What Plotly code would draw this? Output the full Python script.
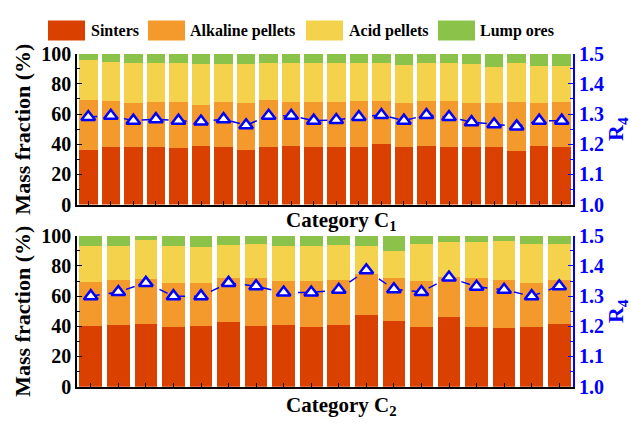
import plotly.graph_objects as go
from plotly.subplots import make_subplots

series_names = ["Sinters", "Alkaline pellets", "Acid pellets", "Lump ores"]
series_colors = ["#DA4000", "#F4992B", "#F5D24B", "#8BC34A"]

# Category C1 (22 samples), mass fractions in %
c1_sinters = [36.4, 38.3, 38.3, 37.9, 37.3, 38.9, 38.3, 36.4, 38.3, 38.5, 37.9,
              37.9, 38.3, 40.0, 37.9, 39.0, 38.3, 37.9, 38.3, 35.2, 39.0, 38.3]
c1_alkaline = [33.2, 30.2, 28.8, 30.2, 30.8, 27.1, 29.4, 30.7, 31.1, 29.6, 29.8,
               30.2, 30.2, 28.5, 29.6, 29.5, 30.2, 29.2, 28.8, 32.9, 28.1, 29.8]
c1_acid = [26.2, 26.1, 26.6, 25.6, 25.6, 27.1, 25.4, 26.0, 24.3, 25.7, 26.0,
           25.6, 25.3, 25.3, 25.0, 25.3, 25.3, 26.0, 24.4, 25.7, 25.0, 24.0]
c1_lump = [4.2, 5.4, 6.3, 6.3, 6.3, 6.9, 6.9, 6.9, 6.3, 6.2, 6.3,
           6.3, 6.2, 6.2, 7.5, 6.2, 6.2, 6.9, 8.5, 6.2, 7.9, 7.9]
c1_r4 = [1.290, 1.294, 1.278, 1.283, 1.278, 1.275, 1.283, 1.263, 1.294, 1.294, 1.278,
         1.280, 1.290, 1.297, 1.278, 1.297, 1.290, 1.273, 1.266, 1.259, 1.278, 1.278]

# Category C2 (18 samples)
c2_sinters = [40.0, 40.9, 41.5, 39.8, 40.4, 43.0, 40.4, 41.1, 39.8, 40.9,
              47.4, 43.6, 39.4, 46.1, 39.4, 38.8, 39.4, 41.5]
c2_alkaline = [29.2, 29.5, 30.0, 28.8, 28.4, 28.9, 31.9, 28.7, 30.0, 30.0,
               27.6, 28.3, 30.4, 26.4, 32.9, 32.1, 29.4, 29.4]
c2_acid = [24.3, 22.9, 25.5, 24.9, 24.1, 22.0, 22.0, 23.5, 23.7, 23.0,
           18.3, 17.8, 24.5, 23.1, 23.3, 25.5, 25.7, 23.6]
c2_lump = [6.5, 6.7, 3.0, 6.5, 7.1, 6.1, 5.7, 6.7, 6.5, 6.1,
           6.7, 10.3, 5.7, 4.4, 4.4, 3.6, 5.5, 5.5]
c2_r4 = [1.300, 1.314, 1.344, 1.300, 1.300, 1.344, 1.333, 1.312, 1.312, 1.321,
         1.386, 1.323, 1.314, 1.362, 1.331, 1.321, 1.300, 1.333]

panels = [
    ([c1_sinters, c1_alkaline, c1_acid, c1_lump], c1_r4, "Category C<sub>1</sub>"),
    ([c2_sinters, c2_alkaline, c2_acid, c2_lump], c2_r4, "Category C<sub>2</sub>"),
]

FONT = "Liberation Serif"
BLUE = "#0000FF"
W, H = 631, 428

fig = make_subplots(rows=2, cols=1, specs=[[{"secondary_y": True}], [{"secondary_y": True}]])

for r, (stack, r4, _) in enumerate(panels, start=1):
    xs = list(range(len(r4)))
    for name, color, vals in zip(series_names, series_colors, stack):
        fig.add_trace(go.Bar(x=xs, y=vals, name=name, marker=dict(color=color, line=dict(width=0)),
                             showlegend=False), row=r, col=1, secondary_y=False)
    fig.add_trace(go.Scatter(x=xs, y=r4, mode="lines+markers", name="R4", showlegend=False,
                             line=dict(color=BLUE, width=1.5, dash="dash"),
                             marker=dict(symbol="triangle-up", size=12, color="white",
                                         line=dict(color=BLUE, width=2.5))),
                  row=r, col=1, secondary_y=True)

xdom = [77 / W, 573 / W]
ydoms = [[1 - 204 / H, 1 - 45 / H], [1 - 396 / H, 1 - 237 / H]]

tickfont_k = dict(family=FONT, size=20, color="black", weight="bold")
tickfont_b = dict(family=FONT, size=20, color=BLUE, weight="bold")
titlefont_k = dict(family=FONT, size=22, color="black", weight="bold")
titlefont_b = dict(family=FONT, size=22, color=BLUE, weight="bold")

layout = dict(
    width=W, height=H, margin=dict(l=0, r=0, t=0, b=0),
    paper_bgcolor="white", plot_bgcolor="white",
    barmode="stack", bargap=0.18, showlegend=False,
    font=dict(family=FONT),
)
axis_names = [("xaxis", "yaxis", "yaxis2"), ("xaxis2", "yaxis3", "yaxis4")]
for i, ((xa, ya, ya2), (stack, r4, xtitle)) in enumerate(zip(axis_names, panels)):
    n = len(r4)
    layout[xa] = dict(domain=xdom, range=[-0.5, n - 0.5], showgrid=False, zeroline=False,
                      showline=True, linecolor="black", linewidth=1.5,
                      ticks="inside", ticklen=4, tickwidth=1.2, tickcolor="black",
                      tickmode="linear", dtick=1, showticklabels=False)
    layout[ya] = dict(domain=ydoms[i], range=[0, 100], showgrid=False, zeroline=False,
                      showline=True, linecolor="black", linewidth=1.5,
                      ticks="inside", ticklen=5, tickwidth=1.2, tickcolor="black",
                      tickmode="linear", dtick=20, tickfont=tickfont_k,
                      minor=dict(ticks="inside", ticklen=3, dtick=10, tickcolor="black"),
                      title=dict(text="Mass fraction (%)", font=titlefont_k, standoff=5))
    layout[ya2] = dict(range=[1.0, 1.5], showgrid=False, zeroline=False,
                       showline=True, linecolor=BLUE, linewidth=2,
                       ticks="inside", ticklen=5, tickwidth=1.2, tickcolor=BLUE,
                       tickmode="linear", dtick=0.1, tickformat=".1f", tickfont=tickfont_b,
                       minor=dict(ticks="inside", ticklen=3, dtick=0.05, tickcolor=BLUE),
                       title=dict(text="R<sub>4</sub>", font=titlefont_b, standoff=4))
fig.update_layout(**layout)

shapes, annotations = [], []
# x-axis titles (placed slightly right of centre, as in the original)
for (stack, r4, xtitle), ycen in zip(panels, [221, 416]):
    annotations.append(dict(text=xtitle, xref="paper", yref="paper", x=341 / W, y=1 - ycen / H,
                            xanchor="center", yanchor="middle", showarrow=False,
                            font=dict(family=FONT, size=21, color="black", weight="bold")))

# Legend drawn as swatches + labels across the top
legend_x = [(48, 85, 89), (148, 185, 188), (306, 343, 347), (438, 475, 478)]
for name, color, (x0, x1, tx) in zip(series_names, series_colors, legend_x):
    shapes.append(dict(type="rect", xref="paper", yref="paper", x0=x0 / W, x1=x1 / W,
                       y0=1 - 31 / H, y1=1 - 10 / H, fillcolor=color, line=dict(width=0)))
    annotations.append(dict(text=name, xref="paper", yref="paper", x=tx / W, y=1 - 21 / H,
                            xanchor="left", yanchor="middle", showarrow=False,
                            font=dict(family=FONT, size=16, color="black", weight="bold")))
fig.update_layout(shapes=shapes, annotations=annotations)

fig.write_html("out.html")
